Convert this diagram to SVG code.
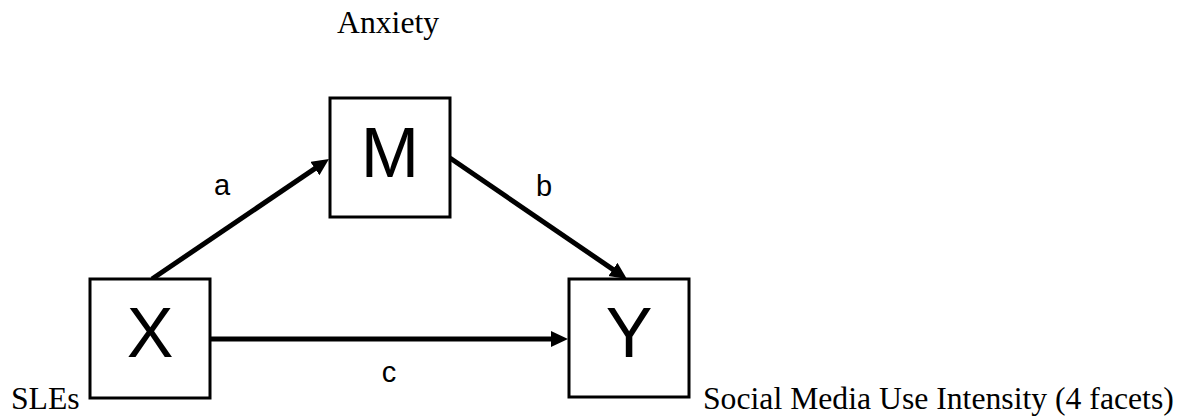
<svg xmlns="http://www.w3.org/2000/svg" width="1189" height="419" viewBox="0 0 1189 419">
  <style>
    .box { fill: #ffffff; stroke: #000000; stroke-width: 3; }
    .big { font-family: "Liberation Sans", Arial, sans-serif; font-size: 70px; fill: #000; text-anchor: middle; }
    .lbl { font-family: "Liberation Sans", Arial, sans-serif; font-size: 29px; fill: #000; text-anchor: middle; }
    .cap { font-family: "Liberation Serif", "Times New Roman", serif; font-size: 31.7px; fill: #000; }
    .edge { stroke: #000000; stroke-width: 5; fill: none; marker-end: url(#arrow); }
  </style>
  <defs>
    <marker id="arrow" markerUnits="userSpaceOnUse" markerWidth="18" markerHeight="18" refX="3" refY="8" orient="auto">
      <path d="M0,0 L17,8 L0,16 z" fill="#000000"/>
    </marker>
  </defs>
  <rect width="1189" height="419" fill="#ffffff"/>

  <g id="connectors">
    <line class="edge" x1="152" y1="279" x2="317.4" y2="166.9"/>
    <line class="edge" x1="450" y1="158" x2="615.4" y2="271.1"/>
    <line class="edge" x1="210" y1="339" x2="554" y2="339"/>
    <text class="lbl" x="222" y="195">a</text>
    <text class="lbl" x="544" y="196">b</text>
    <text class="lbl" x="389" y="382">c</text>
  </g>

  <g id="node-M">
    <rect class="box" x="330" y="98" width="120" height="119"/>
    <text class="big" x="390" y="177">M</text>
    <text class="cap" x="337" y="33">Anxiety</text>
  </g>

  <g id="node-X">
    <rect class="box" x="90" y="279" width="120" height="119"/>
    <text class="big" x="150" y="357">X</text>
    <text class="cap" x="11" y="409">SLEs</text>
  </g>

  <g id="node-Y">
    <rect class="box" x="569" y="279" width="120" height="118"/>
    <text class="big" x="629" y="357">Y</text>
    <text class="cap" x="703" y="409">Social Media Use Intensity (4 facets)</text>
  </g>
</svg>
